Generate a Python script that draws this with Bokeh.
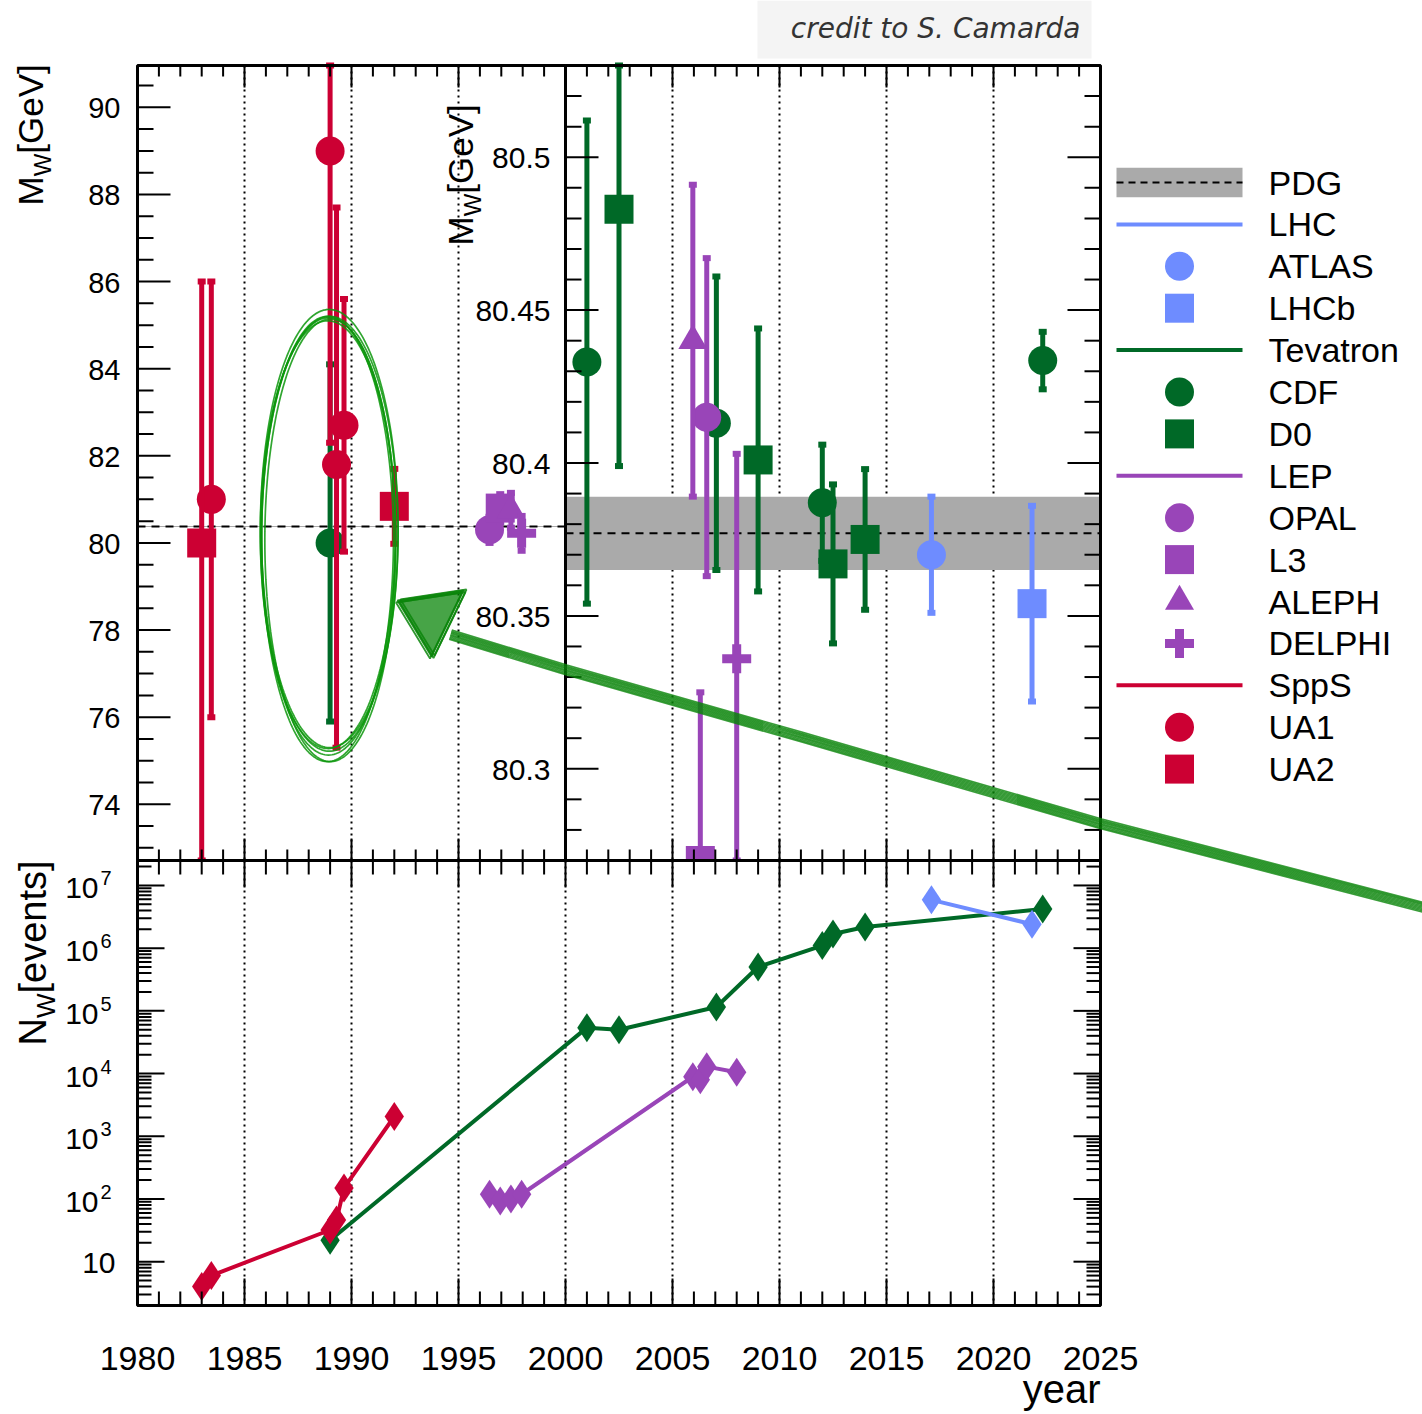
import numpy as np
from bokeh.plotting import figure
from bokeh.models import Range1d, LogScale
from bokeh.core.properties import value
from bokeh.embed import file_html
from bokeh.resources import INLINE

# ---------------- W boson mass measurements ----------------
pdg_mw = 80.377
pdg_err = 0.012

# SppS collider
sps_exp = ["UA2", "UA1", "UA1", "UA1", "UA1", "UA2"]
sps_year = [1983.0, 1983.45, 1989.0, 1989.3, 1989.65, 1992.0]
sps_mw = [80.0, 81.0, 89.0, 81.8, 82.7, 80.84]
sps_up = [6.0, 5.0, 6.7, 5.9, 2.9, 0.86]
sps_dn = [10.0, 5.0, 6.7, 6.5, 2.9, 0.86]
sps_nw = [4, 6, 32, 46, 150, 2065]

# Tevatron
tev_exp = ["CDF", "CDF", "D0", "CDF", "D0", "CDF", "D0", "D0", "CDF"]
tev_year = [1989.0, 2001.0, 2002.5, 2007.05, 2009.0, 2012.0, 2012.5, 2014.0, 2022.3]
tev_mw = [80.0, 80.433, 80.483, 80.413, 80.401, 80.387, 80.367, 80.375, 80.4335]
tev_err = [4.1, 0.079, 0.084, 0.048, 0.043, 0.019, 0.026, 0.023, 0.0094]
tev_nw = [22, 5.4e4, 5.0e4, 1.15e5, 5.0e5, 1.1e6, 1.68e6, 2.18e6, 4.2e6]

# LEP
lep_exp = ["OPAL", "L3", "ALEPH", "DELPHI", "ALEPH", "L3", "OPAL", "DELPHI"]
lep_year = [1996.45, 1996.95, 1997.45, 1997.95, 2005.95, 2006.3, 2006.6, 2008.0]
lep_mw = [80.30, 80.80, 80.75, 80.22, 80.440, 80.270, 80.415, 80.336]
lep_err = [0.30, 0.32, 0.40, 0.40, 0.051, 0.055, 0.052, 0.067]
lep_nw = [119, 93, 100, 119, 8900, 8000, 12900, 10500]

# LHC
lhc_exp = ["ATLAS", "LHCb"]
lhc_year = [2017.1, 2021.8]
lhc_mw = [80.370, 80.354]
lhc_err = [0.019, 0.032]
lhc_nw = [5.9e6, 2.4e6]

legend_labels = ["PDG", "LHC", "ATLAS", "LHCb", "Tevatron", "CDF", "D0", "LEP",
                 "OPAL", "L3", "ALEPH", "DELPHI", "SppS", "UA1", "UA2"]
legend_kind = ["band", "line", "circle", "square", "line", "circle", "square", "line",
               "circle", "square", "triangle", "cross", "line", "circle", "square"]

year_ticks_major = list(range(1980, 2026, 5))

# ---------------- styling / layout ----------------
C_SPS, C_TEV, C_LEP, C_LHC = "#CC0033", "#006927", "#9945B8", "#6E8CFF"
C_BAND, C_SKETCH = "#AAAAAA", "#0A850A"
legend_color = ["black", C_LHC, C_LHC, C_LHC, C_TEV, C_TEV, C_TEV, C_LEP,
                C_LEP, C_LEP, C_LEP, C_LEP, C_SPS, C_SPS, C_SPS]
MARKERS = {"UA1": "circle", "UA2": "square", "CDF": "circle", "D0": "square",
           "OPAL": "circle", "L3": "square", "ALEPH": "triangle", "DELPHI": "cross",
           "ATLAS": "circle", "LHCb": "square"}

W, H = 1422, 1414
FONT = value("Liberation Sans")

X_L, X_R = 137, 1100
Y_T, Y_M, Y_B = 65, 860, 1305
YEAR_LO, YEAR_SPLIT, YEAR_HI = 1980, 2000, 2025
MW_LOW_LIM = (72.71, 90.96)
MW_HIGH_LIM = (80.27, 80.53)
NW_LIM = (2.0, 2.5e7)
LEG_Y0, LEG_DY = 182, 41.9

px_per_year = (X_R - X_L) / (YEAR_HI - YEAR_LO)
X_M = X_L + (YEAR_SPLIT - YEAR_LO) * px_per_year


def canvas_x(lo, hi, px_lo, px_hi):
    k = (hi - lo) / (px_hi - px_lo)
    return Range1d(start=float(lo - px_lo * k), end=float(lo + (W - px_lo) * k))


def canvas_y(lo, hi, px_lo, px_hi, log=False):
    if log:
        lo, hi = np.log10(lo), np.log10(hi)
    k = (hi - lo) / (px_lo - px_hi)
    start, end = lo - (H - px_lo) * k, hi + px_hi * k
    if log:
        start, end = 10 ** start, 10 ** end
    return Range1d(start=float(start), end=float(end))


p = figure(width=W, height=H, x_range=canvas_x(YEAR_LO, YEAR_HI, X_L, X_R),
           y_range=Range1d(H, 0), x_axis_type=None, y_axis_type=None,
           output_backend="svg", toolbar_location=None, title=None, min_border=0,
           outline_line_color=None, background_fill_color="white",
           border_fill_color="white")
p.extra_x_ranges = {"px": Range1d(0, W)}
p.extra_y_ranges = {
    "mw1": canvas_y(*MW_LOW_LIM, Y_M, Y_T),
    "mw2": canvas_y(*MW_HIGH_LIM, Y_M, Y_T),
    "nw": canvas_y(*NW_LIM, Y_B, Y_M, log=True),
    "leg": Range1d((H - LEG_Y0) / LEG_DY, -LEG_Y0 / LEG_DY),
}
p.extra_y_scales = {"nw": LogScale()}


def label(x, y, text, size, align="left", xr=None, yr=None, dy=0, angle=0.0,
          font=FONT, style="normal", color="black"):
    kw = {}
    if xr:
        kw["x_range_name"] = xr
    if yr:
        kw["y_range_name"] = yr
    p.text(x=list(x), y=list(y), text=list(text), text_align=align,
           text_baseline="middle", y_offset=dy, angle=angle, text_font=font,
           text_font_style=style, text_font_size=f"{size}px", text_color=color, **kw)


# ---------------- vertical dotted grid ----------------
grid_top = [y for y in year_ticks_major if YEAR_LO < y < YEAR_HI and y != YEAR_SPLIT]
grid_bot = [y for y in year_ticks_major if YEAR_LO < y < YEAR_HI]
p.segment(x0=grid_top, y0=[Y_T] * len(grid_top), x1=grid_top, y1=[Y_M] * len(grid_top),
          line_color="black", line_width=2, line_dash="2 4")

# ---------------- PDG average ----------------
for rng, x0, x1 in (("mw1", YEAR_LO, YEAR_SPLIT), ("mw2", YEAR_SPLIT, YEAR_HI)):
    p.quad(left=[x0], right=[x1], bottom=[pdg_mw - pdg_err], top=[pdg_mw + pdg_err],
           y_range_name=rng, fill_color=C_BAND, line_color=None)
    p.segment(x0=[x0], y0=[pdg_mw], x1=[x1], y1=[pdg_mw], y_range_name=rng,
              line_color="black", line_width=2, line_dash="8 6")


def draw_mass(order, exps, years, mws, ups, dns, color):
    exps = np.asarray(exps)
    years = np.asarray(years, float)
    mws = np.asarray(mws, float)
    ups = np.asarray(ups, float)
    dns = np.asarray(dns, float)
    for name in order:
        for rng, lim, in_panel in (("mw1", MW_LOW_LIM, years < YEAR_SPLIT),
                                   ("mw2", MW_HIGH_LIM, years >= YEAR_SPLIT)):
            sel = (exps == name) & in_panel
            if not sel.any():
                continue
            x, m = years[sel], mws[sel]
            lo = np.clip(m - dns[sel], *lim)
            hi = np.clip(m + ups[sel], *lim)
            p.segment(x0=x, y0=lo, x1=x, y1=hi, y_range_name=rng,
                      line_color=color, line_width=5)
            p.rect(x=np.concatenate([x, x]), y=np.concatenate([lo, hi]), width=8, height=6,
                   width_units="screen", height_units="screen", fill_color=color,
                   line_color=None, y_range_name=rng)
            marker = MARKERS[name]
            if marker == "cross":
                p.scatter(x, m, marker="cross", size=29, line_color=color, line_width=9,
                          y_range_name=rng)
            else:
                p.scatter(x, m, marker=marker, size=29, fill_color=color, line_color=None,
                          y_range_name=rng)


draw_mass(["CDF", "D0"], tev_exp, tev_year, tev_mw, tev_err, tev_err, C_TEV)
draw_mass(["OPAL", "L3", "ALEPH", "DELPHI"], lep_exp, lep_year, lep_mw, lep_err, lep_err, C_LEP)
draw_mass(["UA1", "UA2"], sps_exp, sps_year, sps_mw, sps_up, sps_dn, C_SPS)
draw_mass(["ATLAS", "LHCb"], lhc_exp, lhc_year, lhc_mw, lhc_err, lhc_err, C_LHC)

# white cover below the mass panels, so markers sitting on the edge are cut
p.quad(left=[X_L], right=[X_R], top=[Y_M], bottom=[Y_B], x_range_name="px",
       fill_color="white", line_color=None)

# ---------------- number of W events ----------------
p.segment(x0=grid_bot, y0=[Y_M] * len(grid_bot), x1=grid_bot, y1=[Y_B] * len(grid_bot),
          line_color="black", line_width=2, line_dash="2 4")
for yrs, nws, col in ((tev_year, tev_nw, C_TEV), (lep_year, lep_nw, C_LEP),
                      (sps_year, sps_nw, C_SPS), (lhc_year, lhc_nw, C_LHC)):
    p.line(yrs, nws, y_range_name="nw", line_color=col, line_width=4)
    p.scatter(yrs, nws, marker="diamond", size=29, fill_color=col, line_color=None,
              y_range_name="nw")

# ---------------- frames ----------------
p.quad(left=[X_L, X_M, X_L], right=[X_M, X_R, X_R], top=[Y_T, Y_T, Y_M],
       bottom=[Y_M, Y_M, Y_B], x_range_name="px", fill_color=None,
       line_color="black", line_width=3)


# ---------------- ticks ----------------
def year_ticks(y_edge, direction, len_major, len_minor, first, last):
    yrs = np.arange(first, last + 1)
    lens = np.where(yrs % 5 == 0, len_major, len_minor)
    p.segment(x0=yrs, y0=np.full(len(yrs), y_edge), x1=yrs, y1=y_edge + direction * lens,
              line_color="black", line_width=2)


def value_ticks(vals, majors, x_edge, direction, len_major, len_minor, rng):
    vals = np.asarray(vals, float)
    lens = np.where(majors, len_major, len_minor)
    p.segment(x0=np.full(len(vals), x_edge), y0=vals, x1=x_edge + direction * lens, y1=vals,
              x_range_name="px", y_range_name=rng, line_color="black", line_width=2)


year_ticks(Y_T, +1, 22, 11, YEAR_LO + 1, YEAR_HI - 1)
year_ticks(Y_M, -1, 22, 11, YEAR_LO + 1, YEAR_HI - 1)
year_ticks(Y_M, +1, 27, 14, YEAR_LO + 1, YEAR_HI - 1)
year_ticks(Y_B, -1, 27, 14, YEAR_LO + 1, YEAR_HI - 1)

mw1_idx = np.arange(int(np.ceil(MW_LOW_LIM[0] * 2)), int(MW_LOW_LIM[1] * 2) + 1)
mw1_vals = mw1_idx / 2
mw1_major = mw1_idx % 4 == 0
value_ticks(mw1_vals, mw1_major, X_L, +1, 33, 16, "mw1")

mw2_idx = np.arange(int(round(MW_HIGH_LIM[0] * 100)), int(round(MW_HIGH_LIM[1] * 100)) + 1)
mw2_vals = mw2_idx / 100
mw2_major = mw2_idx % 5 == 0
value_ticks(mw2_vals, mw2_major, X_M, +1, 33, 16, "mw2")
value_ticks(mw2_vals, mw2_major, X_R, -1, 33, 16, "mw2")

nw_vals, nw_major = [], []
for n in range(0, 8):
    for k in range(1, 10):
        v = k * 10 ** n
        if NW_LIM[0] <= v <= NW_LIM[1]:
            nw_vals.append(v)
            nw_major.append(k == 1)
nw_major = np.array(nw_major)
value_ticks(nw_vals, nw_major, X_L, +1, 27, 14, "nw")
value_ticks(nw_vals, nw_major, X_R, -1, 27, 14, "nw")

# ---------------- tick labels ----------------
lab1 = mw1_vals[mw1_major]
label([120] * len(lab1), lab1, [f"{v:g}" for v in lab1], 29, "right", "px", "mw1", dy=1)
lab2 = mw2_vals[mw2_major]
label([550] * len(lab2), lab2, [f"{v:g}" for v in lab2], 30, "right", "px", "mw2", dy=1)

decades = [10 ** n for n in range(1, 8)]
label([115], decades[:1], ["10"], 30, "right", "px", "nw", dy=1)
label([98] * 6, decades[1:], ["10"] * 6, 30, "right", "px", "nw", dy=3)
label([100] * 6, decades[1:], [str(n) for n in range(2, 8)], 20, "left", "px", "nw", dy=-7)

label(year_ticks_major, [1358] * len(year_ticks_major),
      [str(y) for y in year_ticks_major], 34, "center")
label([X_R], [1388], ["year"], 40, "right", "px")


# ---------------- axis titles (vertical, with subscript) ----------------
def vertical_title(x_mid, y_start, main, sub, rest, size, sub_size, sub_x):
    w_main = {"M": 0.833, "N": 0.722}[main] * size
    w_sub = 0.944 * sub_size
    ys = [y_start, y_start - w_main, y_start - w_main - w_sub]
    xs = [x_mid, sub_x, x_mid]
    for x, y, t, s in zip(xs, ys, [main, sub, rest], [size, sub_size, size]):
        label([x], [y], [t], s, "left", "px", angle=np.pi / 2)


vertical_title(30, 205, "M", "W", "[GeV]", 35, 24, 42)
vertical_title(460, 245, "M", "W", "[GeV]", 35, 24, 472)
vertical_title(32, 1045, "N", "W", "[events]", 38, 26, 45)

# ---------------- legend ----------------
rows = np.arange(len(legend_labels))
LEG_X0, LEG_X1, LEG_XC, LEG_TX = 1116, 1242, 1179, 1268
for i, (kind, col) in enumerate(zip(legend_kind, legend_color)):
    if kind == "band":
        p.quad(left=[LEG_X0], right=[LEG_X1], top=[i - 0.35], bottom=[i + 0.35],
               x_range_name="px", y_range_name="leg", fill_color=C_BAND, line_color=None)
        p.segment(x0=[LEG_X0], y0=[i], x1=[LEG_X1], y1=[i], x_range_name="px",
                  y_range_name="leg", line_color="black", line_width=2, line_dash="7 5")
    elif kind == "line":
        p.segment(x0=[LEG_X0], y0=[i], x1=[LEG_X1], y1=[i], x_range_name="px",
                  y_range_name="leg", line_color=col, line_width=4)
    elif kind == "cross":
        p.scatter([LEG_XC], [i], marker="cross", size=29, line_color=col, line_width=9,
                  x_range_name="px", y_range_name="leg")
    else:
        p.scatter([LEG_XC], [i], marker=kind, size=29, fill_color=col, line_color=None,
                  x_range_name="px", y_range_name="leg")
label([LEG_TX] * len(rows), rows, legend_labels, 34, "left", "px", "leg", dy=0)

# ---------------- hand-drawn highlight ----------------
hl_center = (1988.93, 80.15)
hl_axes = (3.13, 5.02)
hl_strokes = [(0.00, 0.00, 0.00, 0.00, 0.0), (0.05, 0.10, 0.06, -0.07, 0.4),
              (-0.05, -0.06, -0.05, 0.09, 0.9), (0.03, 0.14, 0.09, 0.05, 1.6),
              (-0.04, 0.04, 0.02, -0.11, 2.3), (0.08, -0.09, -0.07, 0.06, 3.1)]
for dcx, dcy, da, db, phase in hl_strokes:
    t = np.linspace(phase, phase + 2 * np.pi + 0.3, 240)
    p.line((hl_center[0] + dcx) + (hl_axes[0] + da) * np.cos(t),
           (hl_center[1] + dcy) + (hl_axes[1] + db) * np.sin(t),
           y_range_name="mw1", line_color="#0C960C", line_width=1.7, line_alpha=0.85)

arrow_x = np.array([1428, 1100, 800, 565, 450])
arrow_y = np.array([908, 823, 736, 669, 634])
arrow_head_x = [397, 463, 431]
arrow_head_y = [600, 590, 656]
perp = np.array([-0.279, 0.961])
for off in [-4.6, -3.4, -2.2, -1.0, 0.2, 1.4, 2.6, 3.8, 5.0]:
    p.line(arrow_x + off * perp[0], arrow_y + off * perp[1], x_range_name="px",
           line_color=C_SKETCH, line_width=1.6, line_alpha=0.8)
p.patch(arrow_head_x, arrow_head_y, x_range_name="px", fill_color=C_SKETCH,
        fill_alpha=0.75, line_color=None)
for dx, dy in [(0, 0), (2, 1.5), (-1.5, 2), (3, -1)]:
    p.patch([x + dx for x in arrow_head_x], [y + dy for y in arrow_head_y],
            x_range_name="px", fill_color=None, line_color=C_SKETCH, line_width=1.8,
            line_alpha=0.85)

# ---------------- credit box ----------------
p.quad(left=[757], right=[1091], top=[0], bottom=[58], x_range_name="px",
       fill_color="#F4F4F4", line_color=None)
label([1080], [28], ["credit to S. Camarda"], 28, "right", "px",
      font=value("DejaVu Sans"), style="italic", color="#333333")

open("out.html", "w").write(file_html(p, INLINE))
